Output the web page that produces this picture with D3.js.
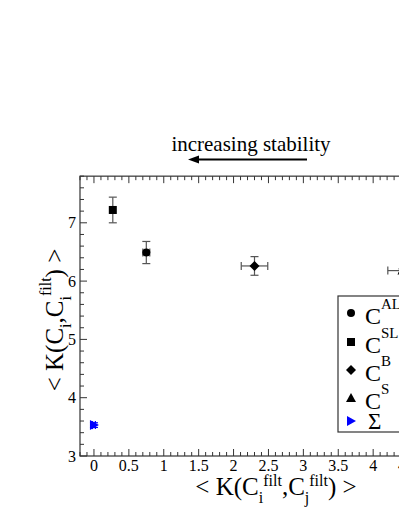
<!DOCTYPE html>
<html lang="en">
<head>
<meta charset="utf-8">
<title>Stability plot</title>
<script src="https://cdn.jsdelivr.net/npm/d3@7"></script>
<style>
  body { margin: 0; background: #fff; }
  text { font-family: "Liberation Serif", "DejaVu Serif", serif; fill: #000; }
</style>
</head>
<body>
<script>
// data
var names  = ["ALL", "SL", "B", "S", "\u03A3"];
var shapes = ["circle", "square", "diamond", "triangle", "right"];
var colors = ["#000", "#000", "#000", "#000", "#0000ff"];
var xVals  = [0.75, 0.27, 2.30, 4.42, 0.0];
var yVals  = [6.49, 7.22, 6.26, 6.18, 3.53];
var xErr   = [0.05, 0.03, 0.19, 0.21, 0.02];
var yErr   = [0.19, 0.22, 0.16, 0.03, 0.04];
var xTicks = [0, 0.5, 1, 1.5, 2, 2.5, 3, 3.5, 4, 4.5];
var yTicks = [3, 4, 5, 6, 7];

var W = 399, H = 516;
var svg = d3.select("body").append("svg").attr("width", W).attr("height", H);

var x = d3.scaleLinear().domain([-0.2, 5]).range([80, 80 + 5.2 * 69.8]);
var y = d3.scaleLinear().domain([3, 7.8]).range([456, 456 - 4.8 * 58.3]);

var pLeft = x(-0.2), pRight = x(5), pTop = y(7.8), pBot = y(3);

// frame
svg.append("rect").attr("x", pLeft).attr("y", pTop)
   .attr("width", pRight - pLeft).attr("height", pBot - pTop)
   .attr("fill", "none").attr("stroke", "#333").attr("stroke-width", 1.2);

// ticks, pointing inward
var g = svg.append("g").attr("stroke", "#333").attr("stroke-width", 1);
d3.range(-0.2, 5.001, 0.1).forEach(function(v) {
    var major = Math.abs(v * 2 - Math.round(v * 2)) < 1e-6;
    var len = major ? 7 : 4;
    g.append("line").attr("x1", x(v)).attr("x2", x(v)).attr("y1", pBot).attr("y2", pBot - len);
    g.append("line").attr("x1", x(v)).attr("x2", x(v)).attr("y1", pTop).attr("y2", pTop + len);
});
d3.range(3, 7.801, 0.2).forEach(function(v) {
    var major = Math.abs(v - Math.round(v)) < 1e-6;
    var len = major ? 7 : 4;
    g.append("line").attr("y1", y(v)).attr("y2", y(v)).attr("x1", pLeft).attr("x2", pLeft + len);
});

svg.selectAll("text.xt").data(xTicks).enter().append("text")
   .attr("class", "xt")
   .attr("x", function(d) { return x(d); }).attr("y", 471)
   .attr("text-anchor", "middle").attr("font-size", 16)
   .text(function(d) { return d; });

svg.selectAll("text.yt").data(yTicks).enter().append("text")
   .attr("class", "yt")
   .attr("x", 76).attr("y", function(d) { return y(d) + 5.5; })
   .attr("text-anchor", "end").attr("font-size", 16)
   .text(function(d) { return d; });

// error bars
var eb = svg.append("g").attr("stroke-width", 1.2);
xVals.forEach(function(xv, i) {
    var cx = x(xv), cy = y(yVals[i]);
    var y0 = y(yVals[i] - yErr[i]), y1 = y(yVals[i] + yErr[i]);
    var x0 = x(xv - xErr[i]), x1 = x(xv + xErr[i]);
    var c = i == 4 ? "#0000ff" : "#555";
    eb.append("line").attr("x1", cx).attr("x2", cx).attr("y1", y0).attr("y2", y1).attr("stroke", c);
    eb.append("line").attr("x1", cx - 4).attr("x2", cx + 4).attr("y1", y0).attr("y2", y0).attr("stroke", c);
    eb.append("line").attr("x1", cx - 4).attr("x2", cx + 4).attr("y1", y1).attr("y2", y1).attr("stroke", c);
    eb.append("line").attr("x1", x0).attr("x2", x1).attr("y1", cy).attr("y2", cy).attr("stroke", c);
    eb.append("line").attr("x1", x0).attr("x2", x0).attr("y1", cy - 4).attr("y2", cy + 4).attr("stroke", c);
    eb.append("line").attr("x1", x1).attr("x2", x1).attr("y1", cy - 4).attr("y2", cy + 4).attr("stroke", c);
});

function marker(sel, shape, cx, cy, color) {
    if (shape == "circle") {
        sel.append("circle").attr("cx", cx).attr("cy", cy).attr("r", 4).attr("fill", color);
    } else if (shape == "square") {
        sel.append("rect").attr("x", cx - 4).attr("y", cy - 4).attr("width", 8).attr("height", 8).attr("fill", color);
    } else if (shape == "diamond") {
        sel.append("path").attr("d", "M" + cx + "," + (cy - 5) + "L" + (cx + 5) + "," + cy +
            "L" + cx + "," + (cy + 5) + "L" + (cx - 5) + "," + cy + "Z").attr("fill", color);
    } else if (shape == "triangle") {
        sel.append("path").attr("d", "M" + cx + "," + (cy - 5) + "L" + (cx + 5) + "," + (cy + 4) +
            "L" + (cx - 5) + "," + (cy + 4) + "Z").attr("fill", color);
    } else {
        sel.append("path").attr("d", "M" + (cx + 5) + "," + cy + "L" + (cx - 4) + "," + (cy - 5) +
            "L" + (cx - 4) + "," + (cy + 5) + "Z").attr("fill", color);
    }
}

var pts = svg.append("g");
xVals.forEach(function(xv, i) {
    marker(pts, shapes[i], x(xv), y(yVals[i]), colors[i]);
});

// legend
var lg = svg.append("g");
lg.append("rect").attr("x", 338).attr("y", 296).attr("width", 120).attr("height", 136)
  .attr("fill", "#fff").attr("stroke", "#333").attr("stroke-width", 1.2);
var rowY = [313, 342, 370, 398, 421];
names.forEach(function(n, i) {
    marker(lg, shapes[i], 351, rowY[i], colors[i]);
    if (i < 4) {
        var t = lg.append("text").attr("x", 365).attr("y", rowY[i] + 11).attr("font-size", 24);
        t.append("tspan").text("C");
        t.append("tspan").attr("font-size", 15).attr("dy", -15).text(n);
    } else {
        lg.append("text").attr("x", 368).attr("y", rowY[i] + 8).attr("font-size", 23).text(n);
    }
});

// title with arrow
svg.append("text").attr("x", 251).attr("y", 151).attr("text-anchor", "middle")
   .attr("font-size", 21).text("increasing stability");
svg.append("line").attr("x1", 307).attr("x2", 196).attr("y1", 159.5).attr("y2", 159.5)
   .attr("stroke", "#000").attr("stroke-width", 2);
svg.append("path").attr("d", "M188,159.5L199,155.5L199,163.5Z").attr("fill", "#000");

// x label
var xl = svg.append("text").attr("x", 276).attr("y", 495).attr("text-anchor", "middle").attr("font-size", 25);
xl.append("tspan").text("< K(C");
xl.append("tspan").attr("font-size", 16).attr("dy", 8).text("i");
xl.append("tspan").attr("font-size", 16).attr("dy", -17).text("filt");
xl.append("tspan").attr("dy", 9).text(",C");
xl.append("tspan").attr("font-size", 16).attr("dy", 8).text("j");
xl.append("tspan").attr("font-size", 16).attr("dy", -17).text("filt");
xl.append("tspan").attr("dy", 9).text(") >");

// y label
var yl = svg.append("text").attr("transform", "translate(63,320) rotate(-90)")
   .attr("text-anchor", "middle").attr("font-size", 25);
yl.append("tspan").text("< K(C");
yl.append("tspan").attr("font-size", 16).attr("dy", 8).text("i");
yl.append("tspan").attr("dy", -8).text(",C");
yl.append("tspan").attr("font-size", 16).attr("dy", 8).text("i");
yl.append("tspan").attr("font-size", 16).attr("dy", -20).text("filt");
yl.append("tspan").attr("dy", 12).text(") >");
</script>
</body>
</html>
